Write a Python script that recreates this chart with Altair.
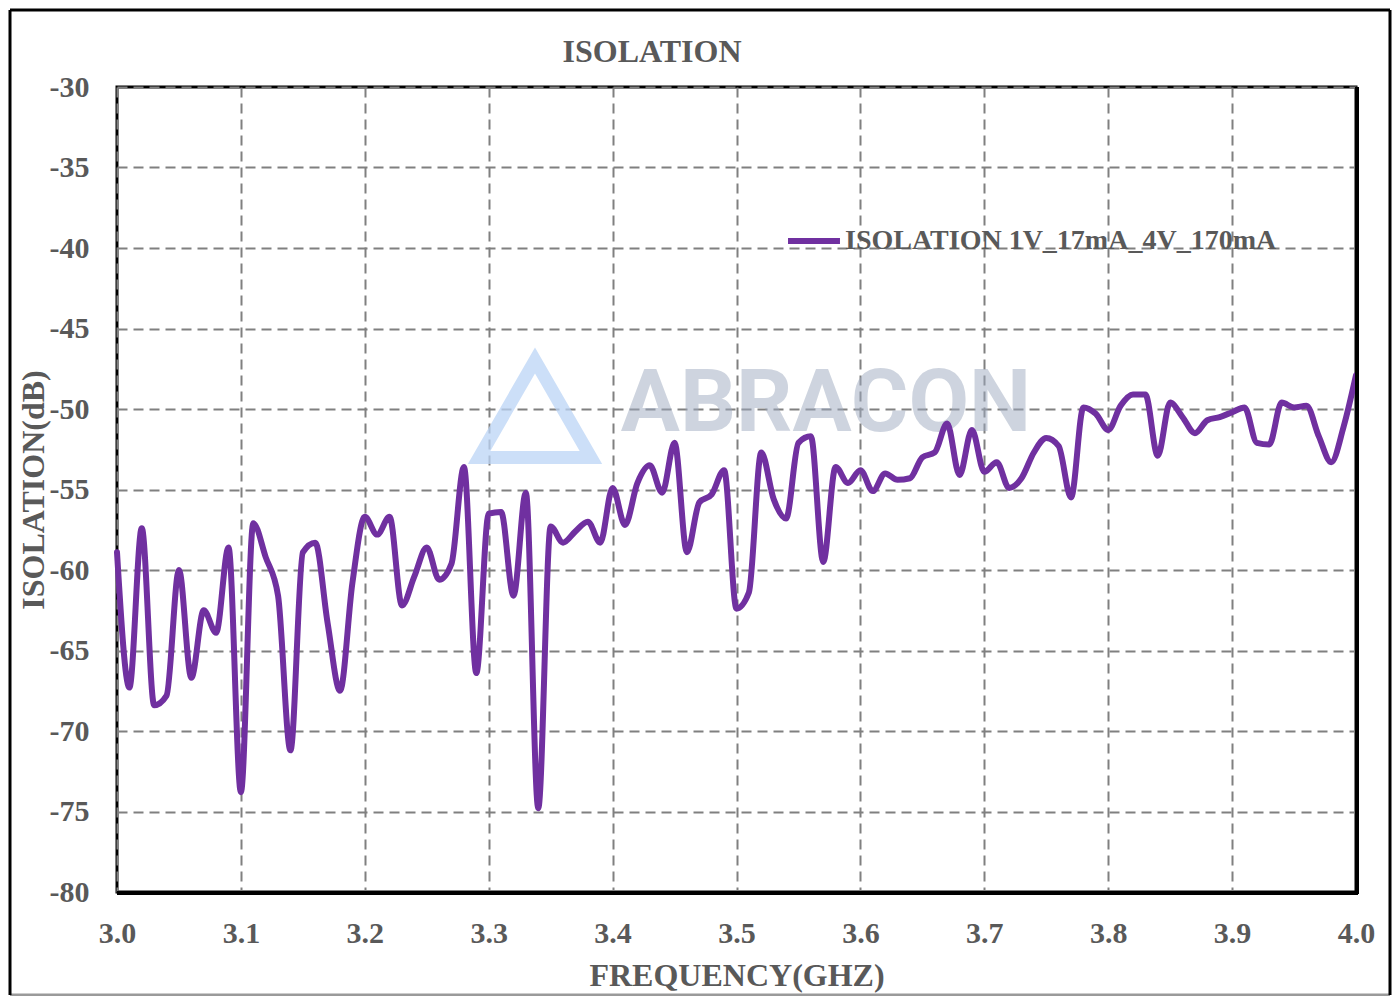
import altair as alt
import pandas as pd

freq = [3.00, 3.01, 3.02, 3.03, 3.04, 3.05, 3.06, 3.07, 3.08, 3.09,
        3.10, 3.11, 3.12, 3.13, 3.14, 3.15, 3.16, 3.17, 3.18, 3.19,
        3.20, 3.21, 3.22, 3.23, 3.24, 3.25, 3.26, 3.27, 3.28, 3.29,
        3.30, 3.31, 3.32, 3.33, 3.34, 3.35, 3.36, 3.37, 3.38, 3.39,
        3.40, 3.41, 3.42, 3.43, 3.44, 3.45, 3.46, 3.47, 3.48, 3.49,
        3.50, 3.51, 3.52, 3.53, 3.54, 3.55, 3.56, 3.57, 3.58, 3.59,
        3.60, 3.61, 3.62, 3.63, 3.64, 3.65, 3.66, 3.67, 3.68, 3.69,
        3.70, 3.71, 3.72, 3.73, 3.74, 3.75, 3.76, 3.77, 3.78, 3.79,
        3.80, 3.81, 3.82, 3.83, 3.84, 3.85, 3.86, 3.87, 3.88, 3.89,
        3.90, 3.91, 3.92, 3.93, 3.94, 3.95, 3.96, 3.97, 3.98, 3.99,
        4.00]

isolation = [-58.9, -67.3, -57.4, -68.4, -67.8, -60.0, -66.7, -62.5, -63.9, -58.6,
             -73.8, -57.1, -59.2, -61.6, -71.2, -58.9, -58.3, -63.3, -67.5, -60.8,
             -56.7, -57.8, -56.7, -62.2, -60.4, -58.6, -60.6, -59.6, -53.6, -66.4,
             -56.5, -56.4, -61.6, -55.2, -74.8, -57.3, -58.3, -57.6, -57.0, -58.3,
             -54.9, -57.2, -54.6, -53.5, -55.2, -52.1, -58.9, -55.8, -55.3, -53.8,
             -62.4, -61.4, -52.7, -55.6, -56.8, -52.1, -51.7, -59.5, -53.6, -54.6,
             -53.8, -55.1, -54.0, -54.4, -54.3, -53.0, -52.7, -50.9, -54.1, -51.3,
             -53.9, -53.3, -54.9, -54.3, -52.7, -51.8, -52.3, -55.5, -49.9, -50.3,
             -51.3, -49.8, -49.1, -49.1, -52.9, -49.6, -50.5, -51.5, -50.7, -50.5,
             -50.2, -49.9, -52.1, -52.2, -49.6, -49.9, -49.8, -51.7, -53.3, -51.1,
             -47.9]

series_name = "ISOLATION 1V_17mA_4V_170mA"
chart_title = "ISOLATION"
x_ticks = [3.0, 3.1, 3.2, 3.3, 3.4, 3.5, 3.6, 3.7, 3.8, 3.9, 4.0]
y_ticks = [-80, -75, -70, -65, -60, -55, -50, -45, -40, -35, -30]

FONT = "Liberation Serif"
TXT = "#595959"
PURPLE = "#7030A0"
W, H = 1239, 805

df = pd.DataFrame({"freq": freq, "iso": isolation, "series": [series_name] * len(freq)})

x_enc = alt.X("freq:Q",
              scale=alt.Scale(domain=[3.0, 4.0], nice=False, zero=False),
              axis=alt.Axis(values=x_ticks, format=".1f", title="FREQUENCY(GHZ)",
                            labelFlush=False, labelPadding=26, titleY=83,
                            titleBaseline="middle"))
y_enc = alt.Y("iso:Q",
              scale=alt.Scale(domain=[-80, -30], nice=False, zero=False),
              axis=alt.Axis(values=y_ticks, title="ISOLATION(dB)",
                            labelExpr="datum.value < 0 ? '-' + abs(datum.value) : '' + datum.value",
                            labelFlush=False, labelPadding=28, titleX=-84, titleY=H / 2,
                            titleAngle=270, titleBaseline="middle", titleAlign="center"))

base = alt.Chart(df)
one = "datum.freq == 3.0"

watermark_logo = base.mark_point(shape="triangle-up", filled=False, stroke="#bcd5f6",
                                 strokeWidth=13, opacity=0.75).encode(
    x=alt.value(418), y=alt.value(322), size=alt.value(12500)
).transform_filter(one)

watermark_text = base.mark_text(text="ABRACON", font="Roboto", fontWeight="bold",
                                fontSize=88, color="#9fabc0", opacity=0.5,
                                align="center", baseline="middle").encode(
    x=alt.value(709), y=alt.value(318)
).transform_filter(one)

line = base.mark_line(interpolate="monotone", strokeWidth=6, strokeCap="round",
                      strokeJoin="round").encode(
    x=x_enc, y=y_enc,
    color=alt.Color("series:N",
                    scale=alt.Scale(domain=[series_name], range=[PURPLE]),
                    legend=alt.Legend(title=None, orient="none", legendX=668, legendY=125,
                                      symbolType="stroke", symbolSize=2700,
                                      symbolStrokeWidth=6, labelFont=FONT,
                                      labelFontSize=28, labelFontWeight="bold",
                                      labelColor=TXT, labelOffset=2, labelLimit=600))
)

title_text = base.mark_text(text=chart_title, font=FONT, fontSize=32, fontWeight="bold",
                            color=TXT, align="center", baseline="middle").encode(
    x=alt.value(535), y=alt.value(-35)
).transform_filter(one)

bottom_edge = base.mark_rule(color="black", strokeWidth=4).encode(
    x=alt.value(0), x2=alt.value(W + 2), y=alt.value(H + 1)
).transform_filter(one)
right_edge = base.mark_rule(color="black", strokeWidth=4).encode(
    x=alt.value(W + 1), y=alt.value(0), y2=alt.value(H + 2)
).transform_filter(one)

FL, FR, FT, FB = -107, 1273, -77, 908
frame_top = base.mark_rule(color="black", strokeWidth=3).encode(
    x=alt.value(FL), x2=alt.value(FR), y=alt.value(FT)).transform_filter(one)
frame_bot = base.mark_rule(color="#9a9a9a", strokeWidth=3).encode(
    x=alt.value(FL), x2=alt.value(FR), y=alt.value(FB)).transform_filter(one)
frame_left = base.mark_rule(color="black", strokeWidth=3).encode(
    x=alt.value(FL), y=alt.value(FT), y2=alt.value(FB)).transform_filter(one)
frame_right = base.mark_rule(color="black", strokeWidth=3).encode(
    x=alt.value(FR), y=alt.value(FT), y2=alt.value(FB)).transform_filter(one)

chart = alt.layer(
    watermark_logo, watermark_text, line, title_text, bottom_edge, right_edge,
    frame_top, frame_bot, frame_left, frame_right
).properties(
    width=W, height=H,
    background="white",
    autosize=alt.AutoSizeParams(type="none"),
    padding={"left": 109, "top": 79, "right": 36, "bottom": 104},
).configure_view(
    stroke="black", strokeWidth=3
).configure_axis(
    grid=True, gridColor="#808080", gridDash=[10, 6], gridWidth=2,
    ticks=False, domain=False,
    labelFont=FONT, labelFontSize=30, labelFontWeight="bold", labelColor=TXT,
    titleFont=FONT, titleFontSize=32, titleFontWeight="bold", titleColor=TXT,
)

chart.save("out.html", embed_options={"renderer": "svg", "actions": False})
